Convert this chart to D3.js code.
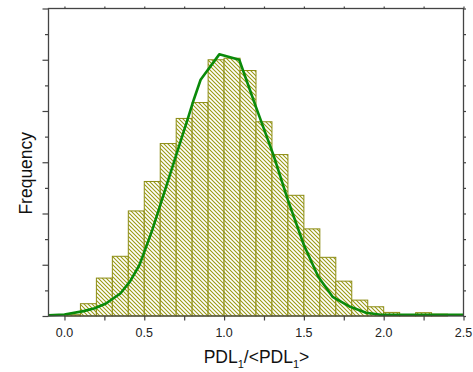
<!DOCTYPE html>
<html>
<meta charset=utf-8>
<head>
<style>
  body { margin: 0; background: #fff; }
  text { font-family: "Liberation Sans", Arial, sans-serif; }
</style>
</head>
<body>
<svg id="canvas" width="473" height="372"></svg>
<script src="https://d3js.org/d3.v7.min.js"></script>
<script>

// histogram, bin width 0.1, starting at 0.0
var binStarts = [0.0, 0.1, 0.2, 0.3, 0.4, 0.5, 0.6, 0.7, 0.8, 0.9, 1.0, 1.1, 1.2,
                 1.3, 1.4, 1.5, 1.6, 1.7, 1.8, 1.9, 2.0, 2.1, 2.2, 2.3];
var counts = [0.05, 0.48, 1.48, 2.33, 4.10, 5.25, 6.73, 7.71, 8.33, 10.0, 10.06, 9.58, 7.58,
              6.30, 4.71, 3.40, 2.29, 1.36, 0.62, 0.36, 0.14, 0.04, 0.13, 0.07];

// fitted curve
var curveX = [-0.1, 0.0, 0.12, 0.19, 0.26, 0.35, 0.41, 0.47, 0.55, 0.77, 0.81, 0.853, 0.97,
              1.095, 1.2, 1.31, 1.40, 1.50, 1.59, 1.68, 1.79, 1.89, 1.98, 2.1, 2.5];
var curveY = [0.03, 0.06, 0.19, 0.30, 0.49, 0.88, 1.34, 1.99, 3.35, 7.64, 8.44, 9.22, 10.21,
              10.0, 8.15, 6.27, 4.52, 2.77, 1.53, 0.75, 0.36, 0.13, 0.05, 0.05, 0.05];

var xTickLabels = [0.0, 0.5, 1.0, 1.5, 2.0, 2.5];
var binWidth = 0.1;

var svg = d3.select('#canvas');
var plotL = 48.5, plotR = 463.5, plotT = 8.5, plotB = 316;

var x = d3.scaleLinear().domain([-0.1, 2.5]).range([plotL, plotR]);
var y = d3.scaleLinear().domain([0, 12]).range([plotB, plotT]);

// hatch pattern
var pat = svg.append('defs').append('pattern')
  .attr('id', 'hatch')
  .attr('patternUnits', 'userSpaceOnUse')
  .attr('width', 4).attr('height', 4);
pat.append('rect').attr('width', 4).attr('height', 4).attr('fill', '#fff');
pat.append('path')
  .attr('d', 'M-1,-1 L5,5 M-1,3 L1,5 M3,-1 L5,1')
  .attr('stroke', '#999910')
  .attr('stroke-width', 1.05);

// bars
svg.append('g').selectAll('rect')
  .data(binStarts)
  .enter().append('rect')
  .attr('x', function(d) { return x(d); })
  .attr('y', function(d, i) { return y(counts[i]); })
  .attr('width', function(d) { return x(d + binWidth) - x(d); })
  .attr('height', function(d, i) { return plotB - y(counts[i]); })
  .attr('fill', 'url(#hatch)')
  .attr('stroke', '#8c8c14')
  .attr('stroke-width', 1);

// curve
var line = d3.line()
  .x(function(d, i) { return x(curveX[i]); })
  .y(function(d, i) { return y(curveY[i]); });

svg.append('path')
  .datum(curveX)
  .attr('d', line)
  .attr('fill', 'none')
  .attr('stroke', '#0a8a0a')
  .attr('stroke-width', 2.6)
  .attr('stroke-linejoin', 'round');

// axes
var minorX = d3.range(0, 2.51, 0.25);
var majorY = d3.range(0, 13, 2), minorY = d3.range(1, 12, 2);

function noLabels(g) {
  g.selectAll('text').remove();
  g.select('.domain').remove();
  g.selectAll('line').attr('stroke', '#444').attr('stroke-width', 1.2);
}

svg.append('g').attr('transform', 'translate(0,' + plotB + ')')
  .call(d3.axisBottom(x).tickValues(minorX).tickSize(4.5)).call(noLabels);
svg.append('g').attr('transform', 'translate(0,' + plotT + ')')
  .call(d3.axisTop(x).tickValues(minorX).tickSize(2)).call(noLabels);
svg.append('g').attr('transform', 'translate(' + plotL + ',0)')
  .call(d3.axisLeft(y).tickValues(majorY).tickSize(6)).call(noLabels);
svg.append('g').attr('transform', 'translate(' + plotL + ',0)')
  .call(d3.axisLeft(y).tickValues(minorY).tickSize(3.5)).call(noLabels);
svg.append('g').attr('transform', 'translate(' + plotR + ',0)')
  .call(d3.axisRight(y).tickValues(d3.range(0, 13)).tickSize(2.5)).call(noLabels);

svg.append('rect')
  .attr('x', plotL).attr('y', plotT)
  .attr('width', plotR - plotL).attr('height', plotB - plotT)
  .attr('fill', 'none')
  .attr('stroke', '#444')
  .attr('stroke-width', 1.3);

// tick labels
svg.append('g').selectAll('text')
  .data(xTickLabels)
  .enter().append('text')
  .attr('x', function(d) { return x(d); })
  .attr('y', 336.5)
  .attr('text-anchor', 'middle')
  .attr('font-size', 12.5)
  .attr('fill', '#222')
  .text(function(d) { return d.toFixed(1); });

// axis titles
var xt = svg.append('text')
  .attr('x', (plotL + plotR) / 2 + 0.5)
  .attr('y', 363)
  .attr('text-anchor', 'middle')
  .attr('font-size', 17.5)
  .attr('fill', '#111');
xt.append('tspan').text('PDL');
xt.append('tspan').attr('font-size', 11).attr('dy', 5).text('1');
xt.append('tspan').attr('dy', -5).text('/<PDL');
xt.append('tspan').attr('font-size', 11).attr('dy', 5).text('1');
xt.append('tspan').attr('dy', -5).text('>');

svg.append('text')
  .attr('transform', 'translate(31.5,' + ((plotT + plotB) / 2 + 11) + ') rotate(-90)')
  .attr('text-anchor', 'middle')
  .attr('font-size', 17.5)
  .attr('fill', '#111')
  .text('Frequency');

</script>
</body>
</html>
